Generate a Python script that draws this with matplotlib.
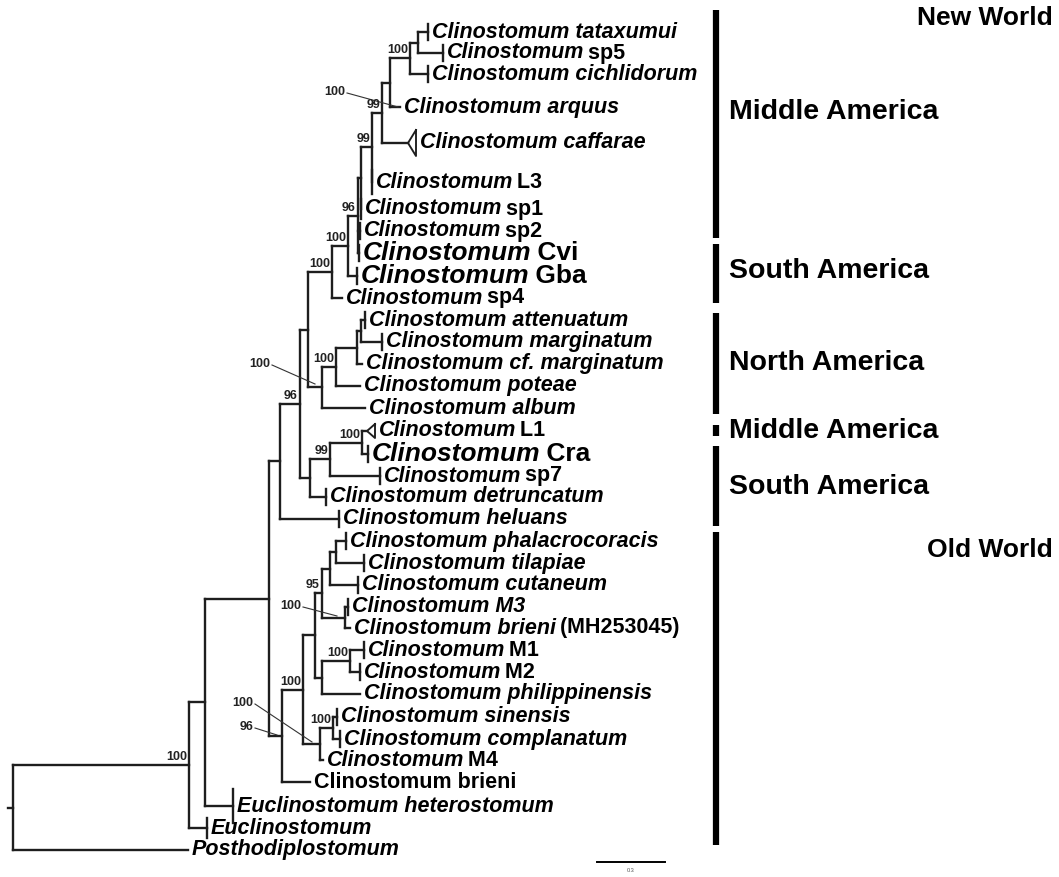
import matplotlib
matplotlib.use("Agg")
import matplotlib.pyplot as plt

plt.rcParams["font.family"] = ["Liberation Sans", "DejaVu Sans"]

# tips, top to bottom: italic part + upright part of each label
TIP_ITALIC = [
    "Clinostomum tataxumui", "Clinostomum", "Clinostomum cichlidorum", "Clinostomum arquus",
    "Clinostomum caffarae", "Clinostomum", "Clinostomum", "Clinostomum", "Clinostomum",
    "Clinostomum", "Clinostomum", "Clinostomum attenuatum", "Clinostomum marginatum",
    "Clinostomum cf. marginatum", "Clinostomum poteae", "Clinostomum album", "Clinostomum",
    "Clinostomum", "Clinostomum", "Clinostomum detruncatum", "Clinostomum heluans",
    "Clinostomum phalacrocoracis", "Clinostomum tilapiae", "Clinostomum cutaneum",
    "Clinostomum M3", "Clinostomum brieni", "Clinostomum", "Clinostomum",
    "Clinostomum philippinensis", "Clinostomum sinensis", "Clinostomum complanatum",
    "Clinostomum", "", "Euclinostomum heterostomum", "Euclinostomum", "Posthodiplostomum",
]
TIP_UPRIGHT = [
    "", " sp5", "", "", "", " L3", " sp1", " sp2", " Cvi", " Gba", " sp4", "", "", "", "", "",
    " L1", " Cra", " sp7", "", "", "", "", "", "", " (MH253045)", " M1", " M2", "", "", "",
    " M4", "Clinostomum brieni", "", "", "",
]
TIP_LARGE = [8, 9, 17]
TIP_Y = [32, 53, 74, 107, 143, 182, 209, 231, 253, 276, 298, 320, 342, 364, 386, 408,
         431, 454, 476, 497, 519, 541, 563, 585, 607, 628, 650, 672, 694, 717, 739, 760,
         782, 806, 828, 850]
TIP_END = [428, 443, 428, 400, 408, 372, 361, 360, 359, 357, 342, 365, 382, 362, 360, 365,
           367, 368, 380, 326, 339, 346, 364, 358, 348, 350, 364, 360, 360, 337, 340, 323,
           310, 233, 207, 188]
TIP_MARK = ["|", "|", "|", "", "<", "|", "|", "|", "|", "|", "", "|", "|", "", "", "",
            "<", "|", "|", "|", "|", "|", "|", "|", "|", "", "|", "|", "", "|", "|", "",
            "", "|", "|", ""]

# internal nodes in post-order: depth, children ("tN" = tip N), bootstrap support
NODE_X = [418, 410, 390, 382, 372, 361, 358, 348, 332, 361, 357, 336, 322, 308, 362, 330,
          310, 300, 280, 336, 330, 345, 322, 350, 322, 315, 333, 320, 303, 282, 269, 205,
          189, 13]
NODE_KIDS = [
    ["t0", "t1"], [0, "t2"], [1, "t3"], [2, "t4"], [3, "t5"], [4, "t6"], [5, "t7", "t8"],
    [6, "t9"], [7, "t10"], ["t11", "t12"], [9, "t13"], [10, "t14"], [11, "t15"], [8, 12],
    ["t16", "t17"], [14, "t18"], [15, "t19"], [13, 16], [17, "t20"], ["t21", "t22"],
    [19, "t23"], ["t24", "t25"], [20, 21], ["t26", "t27"], [23, "t28"], [22, 24],
    ["t29", "t30"], [26, "t31"], [25, 27], [28, "t32"], [18, 29], [30, "t33"], [31, "t34"],
    [32, "t35"],
]
NODE_SUPPORT = ["", "100", "100", "99", "99", "", "96", "100", "100", "", "", "100", "100",
                "", "100", "99", "", "96", "", "", "", "100", "95", "100", "", "", "100",
                "100", "100", "96", "", "", "100", ""]

REGION_NAMES = ["Middle America", "South America", "North America", "Middle America",
                "South America", ""]
REGION_TOP = [10, 244, 313, 425, 446, 532]
REGION_BOTTOM = [238, 303, 414, 436, 526, 845]
REGION_LABEL_Y = [112, 271, 363, 431, 487, 0]
WORLD_NAMES = ["New World", "Old World"]
WORLD_Y = [18, 550]

# styling
LINE = "#1e1e1e"
LW = 1.7
TICK_HALF = {33: 17, 34: 10, 5: 12, 6: 10}
TRI = {4: (8, 13), 16: (8, 7)}
LEADERS = {2: (345, 92, 398, 107), 12: (270, 364, 315, 384), 21: (301, 606, 337, 616),
           27: (253, 703, 312, 742), 29: (253, 727, 277, 735)}
FS = 15.5
FS_LARGE = 19
FS_SUP = 9

fig = plt.figure(figsize=(10.59, 8.77), dpi=100)
ax = fig.add_axes([0, 0, 1, 1])
ax.set_xlim(0, 1059)
ax.set_ylim(877, 0)
ax.axis("off")

# node y = midpoint of first and last child
node_y = []
def pos(c):
    if isinstance(c, str):
        i = int(c[1:])
        return TIP_END[i], TIP_Y[i]
    return NODE_X[c], node_y[c]

for i, kids in enumerate(NODE_KIDS):
    node_y.append((pos(kids[0])[1] + pos(kids[-1])[1]) / 2)

for i, kids in enumerate(NODE_KIDS):
    x = NODE_X[i]
    ax.plot([x, x], [pos(kids[0])[1], pos(kids[-1])[1]], color=LINE, lw=LW,
            solid_capstyle="projecting")
    for c in kids:
        cx, cy = pos(c)
        ax.plot([x, cx], [cy, cy], color=LINE, lw=LW, solid_capstyle="projecting")

root = len(NODE_X) - 1
ax.plot([8, NODE_X[root]], [node_y[root]] * 2, color=LINE, lw=LW)

# collapsed clades
for i, m in enumerate(TIP_MARK):
    x, y = TIP_END[i], TIP_Y[i]
    if m == "|":
        h = TICK_HALF.get(i, 8)
        ax.plot([x, x], [y - h, y + h], color=LINE, lw=LW)
    elif m == "<":
        w, h = TRI[i]
        ax.plot([x + w, x, x + w, x + w], [y - h, y, y + h, y - h], color=LINE, lw=LW * 0.8)

# support values
for i, s in enumerate(NODE_SUPPORT):
    if not s:
        continue
    if i in LEADERS:
        tx, ty, lx, ly = LEADERS[i]
        ax.text(tx, ty, s, ha="right", va="center", fontsize=FS_SUP, fontweight="bold",
                color="#222")
        ax.plot([tx + 2, lx], [ty + 1, ly], color="#333", lw=0.8)
    else:
        ax.text(NODE_X[i] - 2, node_y[i] - 2, s, ha="right", va="bottom",
                fontsize=FS_SUP, fontweight="bold", color="#222")

# tip labels, italic part then upright part
renderer = fig.canvas.get_renderer()
inv = ax.transData.inverted()
for i in range(len(TIP_Y)):
    x = TIP_END[i] + 4
    if TIP_MARK[i] == "<":
        x += TRI[i][0]
    y = TIP_Y[i]
    fs = FS_LARGE if i in TIP_LARGE else FS
    if TIP_ITALIC[i]:
        t = ax.text(x, y, TIP_ITALIC[i], ha="left", va="center", fontsize=fs,
                    fontweight="bold", fontstyle="italic", color="black")
        bb = t.get_window_extent(renderer)
        x = inv.transform((bb.x1, bb.y0))[0] - 2
    if TIP_UPRIGHT[i]:
        ax.text(x, y, TIP_UPRIGHT[i], ha="left", va="center", fontsize=fs,
                fontweight="bold", color="black")

# geographic bars
for name, top, bot, ly in zip(REGION_NAMES, REGION_TOP, REGION_BOTTOM, REGION_LABEL_Y):
    ax.plot([716, 716], [top, bot], color="black", lw=4.5, solid_capstyle="butt")
    if name:
        ax.text(729, ly, name, ha="left", va="center", fontsize=20.5, fontweight="bold")
for name, y in zip(WORLD_NAMES, WORLD_Y):
    ax.text(1053, y, name, ha="right", va="center", fontsize=19, fontweight="bold")

# scale bar
ax.plot([597, 665], [862, 862], color="black", lw=1.4)
ax.text(631, 871, "0.3", ha="center", va="center", fontsize=4, color="#555")

fig.savefig("out.png", dpi=100)
